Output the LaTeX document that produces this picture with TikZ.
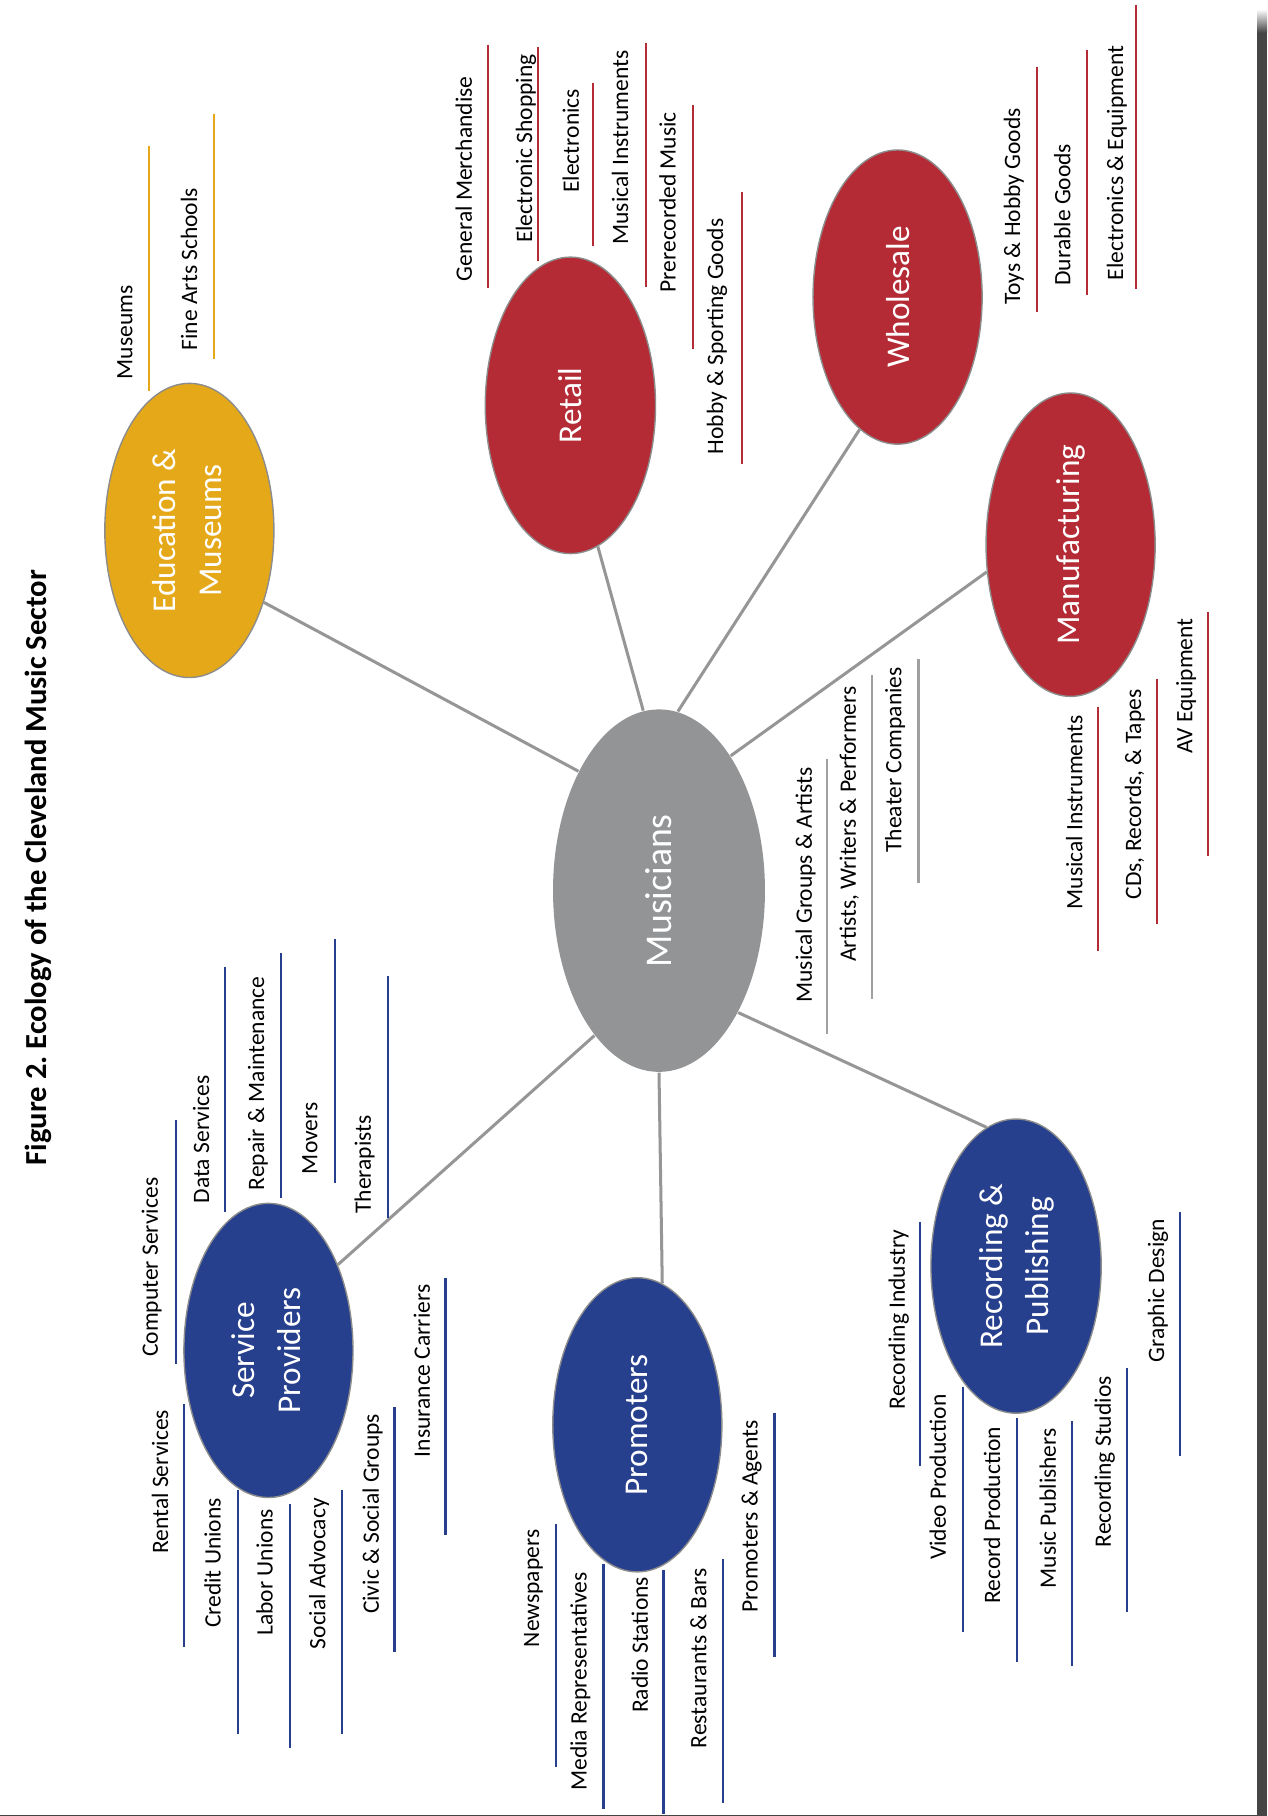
\documentclass[tikz,border=0pt]{standalone}
\usepackage{fontspec}
\setmainfont{Carlito}
\usetikzlibrary{shapes.geometric}
\frenchspacing
\definecolor{eduorange}{RGB}{229,168,25}
\definecolor{secred}{RGB}{180,43,53}
\definecolor{secblue}{RGB}{39,64,142}
\definecolor{musgray}{RGB}{147,148,150}
\definecolor{conngray}{RGB}{150,150,150}
\definecolor{linegray}{RGB}{160,160,160}
\definecolor{ellborder}{RGB}{140,140,140}
\definecolor{barc}{RGB}{69,69,69}
\newcommand{\lab}[8]{\node[lbl] (#1) at ({#3+4},#4) {#2};\draw[uline,#8] (#5,#6) -- (#5,#7);}
\newcommand{\twolines}[2]{\rotatebox{90}{\begin{tabular}{@{}c@{}}#1\\#2\end{tabular}}}
\begin{document}
\begin{tikzpicture}[x=1pt,y=-1pt,
  sector/.style={ellipse, inner sep=0pt, draw=ellborder, line width=1.2pt, text=white,
    font=\fontsize{28.7}{40}\selectfont, minimum width=146pt, minimum height=254pt},
  conn/.style={draw=conngray, line width=2.6pt},
  lbl/.style={rotate=90, inner sep=0pt, anchor=mid west, font=\fontsize{20.3}{24}\selectfont, text=black},
  uline/.style={line width=2pt}]
\useasboundingbox (0,0) rectangle (1094,1568);
\fill[white] (0,0) rectangle (1094,1568);

% page edge
\fill[barc] (1085.5,28) rectangle (1094,1568);
\shade[top color=white, bottom color=barc] (1085.5,8) rectangle (1094,28.2);
\draw[barc, line width=1.2pt] (0,1567.4) -- (1085.5,1567.4);

% title
\node[rotate=90, anchor=base west, inner sep=0pt, font=\bfseries\fontsize{26.4}{30}\selectfont] (title) at (40.3,1006.2) {Figure 2. Ecology of the Cleveland Music Sector};

% sector ellipses
\node[sector, fill=musgray, draw=none, minimum width=183pt, minimum height=313pt, font=\fontsize{32.6}{40}\selectfont] (mus) at (569,769) {\rotatebox{90}{Musicians}};
\node[sector, fill=eduorange] (edu) at (163.5,458) {\twolines{Education \&}{Museums}};
\node[sector, fill=secred, minimum width=147pt, minimum height=256pt] (retail) at (492.5,350) {\rotatebox{90}{Retail}};
\node[sector, fill=secred] (whole) at (775,256.5) {\rotatebox{90}{Wholesale}};
\node[sector, fill=secred, minimum height=262pt] (mfg) at (924.4,470.3) {\rotatebox{90}{Manufacturing}};
\node[sector, fill=secblue] (serv) at (231.8,1166) {\twolines{Service}{Providers}};
\node[sector, fill=secblue] (prom) at (550.3,1230.2) {\rotatebox{90}{Promoters}};
\node[sector, fill=secblue, minimum width=147pt] (rec) at (877.3,1093.2) {\twolines{Recording \&}{Publishing}};

% connectors
\draw[conn] (mus.124.3) -- (edu.-44.9);
\draw[conn] (mus.95.5) -- (retail.-79.7);
\draw[conn] (mus.84.5) -- (whole.-106.4);
\draw[conn] (mus.62.9) -- (mfg.-162.5);
\draw[conn] (mus.-57.2) -- (rec.102.7);
\draw[conn] (mus.-90.4) -- (prom.80.7);
\draw[conn] (mus.-114.2) -- (serv.51);

% Education & Museums
\lab{l-mus}{Museums}{108}{327.7}{128.4}{126}{337.3}{eduorange}
\lab{l-fas}{Fine Arts Schools}{163.8}{302.6}{185}{98.3}{309.6}{eduorange}

% Retail
\lab{l-gm}{General Merchandise}{401}{242.9}{421.4}{38.5}{248.6}{secred}
\lab{l-es}{Electronic Shopping}{453}{210}{464.5}{40.5}{225.5}{secred}
\lab{l-el}{Electronics}{493.4}{166.5}{512}{71.7}{212.8}{secred}
\lab{l-mir}{Musical Instruments}{535.9}{211.3}{557.8}{37}{247.9}{secred}
\lab{l-pm}{Prerecorded Music}{577}{252.5}{598.3}{90.6}{301.5}{secred}
\lab{l-hsg}{Hobby \& Sporting Goods}{618}{392.5}{640.4}{165.8}{400.2}{secred}

% Wholesale
\lab{l-thg}{Toys \& Hobby Goods}{874.4}{263.3}{895.4}{57.8}{269.1}{secred}
\lab{l-dg}{Durable Goods}{917.8}{246.7}{938.7}{43.6}{254.4}{secred}
\lab{l-ee}{Electronics \& Equipment}{963.3}{242.1}{980.9}{4.6}{249.8}{secred}

% Manufacturing
\lab{l-mim}{Musical Instruments}{928.2}{785.2}{948}{610.7}{821.5}{secred}
\lab{l-cd}{CDs, Records, \& Tapes}{978.9}{776.6}{998.8}{586.5}{797.4}{secred}
\lab{l-av}{AV Equipment}{1023.2}{651}{1043.1}{528.1}{738.9}{secred}

% Musicians
\lab{l-mga}{Musical Groups \& Artists}{694.6}{865.8}{714}{655.3}{892.6}{linegray}
\lab{l-awp}{Artists, Writers \& Performers}{732.5}{830.5}{752.9}{582.6}{862.5}{linegray}
\lab{l-tc}{Theater Companies}{771.8}{736.3}{793}{569.3}{762.7}{linegray}

% Service Providers
\lab{l-cs}{Computer Services}{130}{1171.7}{152}{967}{1177.6}{secblue}
\lab{l-ds}{Data Services}{174.2}{1039}{194.3}{835}{1046.3}{secblue}
\lab{l-rm}{Repair \& Maintenance}{221.6}{1027.9}{242.7}{823.1}{1034.2}{secblue}
\lab{l-mv}{Movers}{267.7}{1013.9}{289.3}{810.8}{1021.6}{secblue}
\lab{l-th}{Therapists}{313.8}{1048.1}{334.8}{842.8}{1052}{secblue}
\lab{l-rs}{Rental Services}{138.8}{1341.6}{158.6}{1212.1}{1422.3}{secblue}
\lab{l-cu}{Credit Unions}{184.2}{1405.8}{205.3}{1286.6}{1497.5}{secblue}
\lab{l-lu}{Labor Unions}{229.1}{1412.4}{250.3}{1298.3}{1509.2}{secblue}
\lab{l-sa}{Social Advocacy}{274.5}{1424.1}{295.2}{1286.6}{1497.5}{secblue}
\lab{l-csg}{Civic \& Social Groups}{320.7}{1393.7}{340.6}{1215}{1426}{secblue}
\lab{l-ic}{Insurance Carriers}{364.8}{1258.3}{384.6}{1103.1}{1325.1}{secblue}

% Promoters
\lab{l-np}{Newspapers}{459.1}{1422.3}{480.2}{1315.9}{1526.1}{secblue}
\lab{l-mr}{Media Representatives}{500.1}{1546.3}{521.2}{1350.8}{1561.7}{secblue}
\lab{l-rst}{Radio Stations}{552.9}{1479.2}{572.8}{1355.5}{1566.1}{secblue}
\lab{l-rb}{Restaurants \& Bars}{603.6}{1509.6}{624.3}{1346.3}{1556.9}{secblue}
\lab{l-pa}{Promoters \& Agents}{647.7}{1392.2}{668.8}{1219.8}{1430.4}{secblue}

% Recording & Publishing
\lab{l-ri}{Recording Industry}{774.9}{1216.9}{794.4}{1054.7}{1265.7}{secblue}
\lab{l-vp}{Video Production}{810.3}{1347.1}{831.6}{1197.8}{1409.5}{secblue}
\lab{l-rp}{Record Production}{857.2}{1384.9}{878.2}{1224.2}{1435.1}{secblue}
\lab{l-mp}{Music Publishers}{905.3}{1371.7}{925.7}{1227.1}{1438.8}{secblue}
\lab{l-rstu}{Recording Studios}{952.7}{1336.1}{972.9}{1181.3}{1392.2}{secblue}
\lab{l-gd}{Graphic Design}{998.8}{1176.5}{1019}{1046.3}{1257.2}{secblue}
\end{tikzpicture}
\end{document}
